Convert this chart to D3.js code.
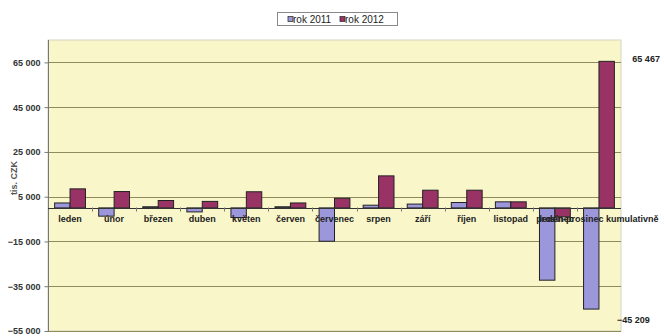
<!DOCTYPE html>
<html><head><meta charset="utf-8">
<script src="https://cdn.jsdelivr.net/npm/d3@7/dist/d3.min.js"></script>
<style>
html,body{margin:0;padding:0;background:#fff;}
svg{display:block;font-family:"Liberation Sans",Arial,sans-serif;}
</style></head>
<body><svg id="chart" width="664" height="336"></svg>
<script>
const categories = ["leden","únor","březen","duben","květen","červen","červenec","srpen","září","říjen","listopad","prosinec","leden-prosinec kumulativně"];
const seriesNames = ["rok 2011","rok 2012"];
const values2011 = [2200,-3700,500,-1800,-4300,500,-14900,1200,1700,2400,2700,-32300,-45209];
const values2012 = [8500,7300,3300,2900,7200,2200,4300,14300,7900,7900,2700,-4000,65467];
const tickValues = [65000,45000,25000,5000,-15000,-35000,-55000];
const yDomain = [-55000,75000];
const yTitle = "tis. CZK";
const colors = ["#9B97DA","#993366"];

const svg = d3.select("#chart");
const m = {left:48, right:43, top:40, bottom:5};
const W = 664, H = 336;
const pw = W - m.left - m.right, ph = 331 - m.top;

const x = d3.scaleBand().domain(categories).range([m.left, m.left+pw]).paddingInner(0).paddingOuter(0);
const y = d3.scaleLinear().domain(yDomain).range([m.top+ph, m.top]);
const inner = d3.scaleBand().domain(seriesNames).range([0, x.bandwidth()]).paddingInner(0).paddingOuter(0.43);
const fmt = v => d3.format(",")(v).replace(/,/g," ");

// plot area
svg.append("rect").attr("x",m.left).attr("y",m.top).attr("width",pw).attr("height",ph)
  .attr("fill","#F9F6C9").attr("stroke","#D6D4C4").attr("stroke-width",1);

// gridlines
svg.append("g").selectAll("line").data(tickValues).join("line")
  .attr("x1",m.left).attr("x2",m.left+pw)
  .attr("y1",d=>Math.round(y(d))+0.5).attr("y2",d=>Math.round(y(d))+0.5)
  .attr("stroke","#8E8C5C").attr("stroke-width",1);

// y axis
const yAxis = d3.axisLeft(y).tickValues(tickValues).tickSize(4).tickPadding(4).tickFormat(fmt);
const ga = svg.append("g").attr("transform",`translate(${m.left+0.5},0)`).call(yAxis);
ga.select(".domain").attr("stroke","#777").attr("d",`M-0,${m.top}V${m.top+ph}`);
ga.selectAll(".tick line").attr("stroke","#777");
ga.selectAll(".tick text").attr("font-size",9).attr("font-weight","bold").attr("fill","#333")
  .attr("font-family","Liberation Sans, Arial, sans-serif");

// y title
svg.append("text").attr("transform",`translate(17,178) rotate(-90)`).attr("text-anchor","middle")
  .attr("font-size",9).attr("font-weight","bold").attr("fill","#555").text(yTitle);

// bars
const data = categories.map((c,i)=>({c, vals:[values2011[i],values2012[i]]}));
const groups = svg.append("g").selectAll("g").data(data).join("g")
  .attr("transform",d=>`translate(${x(d.c)},0)`);
groups.selectAll("rect").data(d=>d.vals.map((v,j)=>({v,s:seriesNames[j],j}))).join("rect")
  .attr("x",d=>inner(d.s)).attr("width",inner.bandwidth())
  .attr("y",d=>y(Math.max(0,d.v))).attr("height",d=>Math.max(1,Math.abs(y(d.v)-y(0))))
  .attr("fill",d=>colors[d.j]).attr("stroke","#222").attr("stroke-width",1);

// zero axis
const z = Math.round(y(0))+0.5;
svg.append("line").attr("x1",m.left).attr("x2",m.left+pw).attr("y1",z).attr("y2",z)
  .attr("stroke","#333").attr("stroke-width",1);
svg.append("g").selectAll("line").data(categories.slice(1)).join("line")
  .attr("x1",d=>Math.round(x(d))+0.5).attr("x2",d=>Math.round(x(d))+0.5)
  .attr("y1",z-1).attr("y2",z+3).attr("stroke","#777");

// category labels
svg.append("g").selectAll("text").data(categories).join("text")
  .attr("x",d=>x(d)+x.bandwidth()/2).attr("y",z+13).attr("text-anchor","middle")
  .attr("font-size",9).attr("font-weight","bold").attr("fill","#222").text(d=>d);

// data labels for cumulative
const last = categories[categories.length-1];
const li = categories.length-1;
svg.append("text").attr("x",x(last)+inner(seriesNames[1])+inner.bandwidth()+18).attr("y",y(values2012[li])+1)
  .attr("font-size",9).attr("font-weight","bold").attr("fill","#222").text(fmt(values2012[li]));
svg.append("text").attr("x",x(last)+inner(seriesNames[1])+18).attr("y",y(values2011[li])+14)
  .attr("font-size",9).attr("font-weight","bold").attr("fill","#222").text(fmt(values2011[li]));

// legend
const lg = svg.append("g");
lg.append("rect").attr("x",277.5).attr("y",12.5).attr("width",120).attr("height",13)
  .attr("fill","#fff").attr("stroke","#888");
const lx = [288, 340];
seriesNames.forEach((s,i)=>{
  lg.append("rect").attr("x",lx[i]).attr("y",16.5).attr("width",5).attr("height",5)
    .attr("fill",colors[i]).attr("stroke","#333").attr("stroke-width",0.8);
  lg.append("text").attr("x",lx[i]+5).attr("y",23).attr("font-size",10).attr("fill","#222").text(s);
});
</script></body></html>
